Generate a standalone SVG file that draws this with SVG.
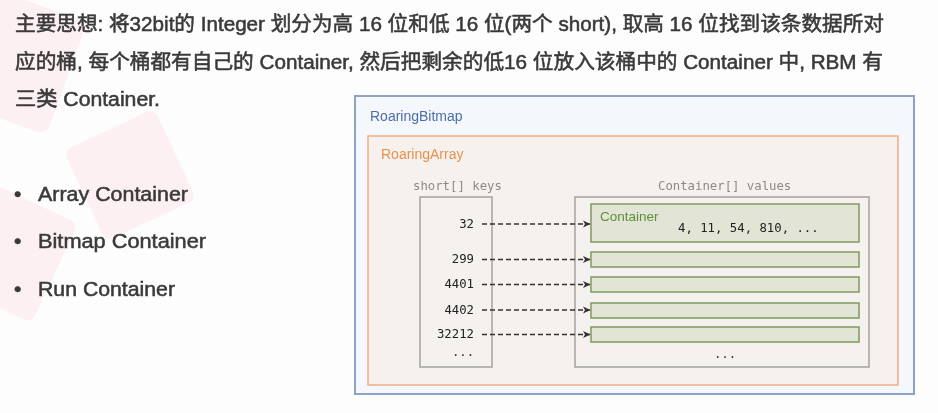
<svg xmlns="http://www.w3.org/2000/svg" width="938" height="413" viewBox="0 0 938 413">
  <defs>
    <marker id="arrow" viewBox="0 0 8 8" refX="7" refY="4" markerWidth="8" markerHeight="8" markerUnits="userSpaceOnUse" orient="auto">
      <path d="M0,0.5 L7.5,4 L0,7.5 L2,4 Z" fill="#333"/>
    </marker>
    <style>
      .intro { font-family: "Liberation Sans", "Noto Sans CJK SC", sans-serif; font-size: 20px; font-weight: normal; fill: #3a3a3a; stroke: #3a3a3a; stroke-width: 0.55px; }
      .bullet { font-family: "Liberation Sans", "Noto Sans CJK SC", sans-serif; font-size: 21px; font-weight: normal; fill: #3a3a3a; stroke: #3a3a3a; stroke-width: 0.55px; }
      .title { font-family: "Liberation Sans", "Noto Sans", sans-serif; font-size: 14px; }
      .mono { font-family: "DejaVu Sans Mono", "Liberation Mono", monospace; font-size: 12.3px; }
      .caption { fill: #8a8a8a; }
      .key { fill: #222; text-anchor: end; }
      .slot { fill: #e2e5d6; stroke: #80995f; stroke-width: 1.5; }
      .list { fill: #f5f1ef; stroke: #a2a2a2; stroke-width: 1.5; }
      .link { stroke: #333; stroke-width: 1.4; stroke-dasharray: 5 3; fill: none; marker-end: url(#arrow); }
    </style>
  </defs>

  <!-- page background with soft decorative tiles -->
  <rect width="938" height="413" fill="#fefdfd"/>
  <g fill="#fbe6eb" opacity="0.55">
    <rect x="-40" y="0" width="110" height="120" rx="10" transform="rotate(20 15 60)"/>
    <rect x="80" y="125" width="100" height="100" rx="8" transform="rotate(-25 130 175)"/>
    <rect x="-50" y="195" width="110" height="110" rx="8" transform="rotate(25 5 250)"/>
  </g>

  <!-- introduction text -->
  <g id="intro">
    <text class="intro" x="15" y="31" textLength="869" lengthAdjust="spacingAndGlyphs">主要思想: 将32bit的 Integer 划分为高 16 位和低 16 位(两个 short), 取高 16 位找到该条数据所对</text>
    <text class="intro" x="15" y="69" textLength="868" lengthAdjust="spacingAndGlyphs">应的桶, 每个桶都有自己的 Container, 然后把剩余的低16 位放入该桶中的 Container 中, RBM 有</text>
    <text class="intro" x="15" y="106" textLength="145" lengthAdjust="spacingAndGlyphs">三类 Container.</text>
  </g>

  <!-- container kinds -->
  <g id="kinds">
    <text class="bullet" x="14" y="201">•</text>
    <text class="bullet" x="38" y="201" textLength="150" lengthAdjust="spacingAndGlyphs">Array Container</text>
    <text class="bullet" x="14" y="248">•</text>
    <text class="bullet" x="38" y="248" textLength="168" lengthAdjust="spacingAndGlyphs">Bitmap Container</text>
    <text class="bullet" x="14" y="296">•</text>
    <text class="bullet" x="38" y="296" textLength="137" lengthAdjust="spacingAndGlyphs">Run Container</text>
  </g>

  <!-- RoaringBitmap wrapper -->
  <g id="roaring-bitmap">
    <rect x="355" y="96" width="559" height="298" fill="#f4f7fb" stroke="#8ea2c8" stroke-width="2"/>
    <text class="title" x="370" y="121" fill="#4f6ea8">RoaringBitmap</text>
  </g>

  <!-- RoaringArray -->
  <g id="roaring-array">
    <rect x="368" y="136" width="530" height="249" fill="#f7f1ee" stroke="#f0ad86" stroke-width="1.5"/>
    <text class="title" x="381" y="159" fill="#e8914e">RoaringArray</text>
  </g>

  <!-- keys array -->
  <g id="keys">
    <text class="mono caption" x="413" y="190">short[] keys</text>
    <rect class="list" x="420" y="197" width="72" height="170"/>
    <text class="mono key" x="474" y="228">32</text>
    <text class="mono key" x="474" y="263">299</text>
    <text class="mono key" x="474" y="288">4401</text>
    <text class="mono key" x="474" y="314">4402</text>
    <text class="mono key" x="474" y="338">32212</text>
    <text class="mono" x="463" y="356" fill="#333" text-anchor="middle">...</text>
  </g>

  <!-- values array -->
  <g id="values">
    <text class="mono caption" x="658" y="190">Container[] values</text>
    <rect class="list" x="575" y="197" width="294" height="170"/>
    <text class="mono" x="725" y="358" fill="#333" text-anchor="middle">...</text>
  </g>

  <g id="container-32">
    <rect class="slot" x="591" y="204" width="268" height="38"/>
    <text x="600" y="221" font-family="Liberation Sans, sans-serif" font-size="13.5" fill="#5f8d3a">Container</text>
    <text class="mono" x="678" y="232" fill="#222">4, 11, 54, 810, ...</text>
  </g>
  <g id="container-299"><rect class="slot" x="591" y="252" width="268" height="15"/></g>
  <g id="container-4401"><rect class="slot" x="591" y="277" width="268" height="15"/></g>
  <g id="container-4402"><rect class="slot" x="591" y="303" width="268" height="15"/></g>
  <g id="container-32212"><rect class="slot" x="591" y="327" width="268" height="15"/></g>

  <!-- key to container links -->
  <g id="connectors">
    <line class="link" x1="482" y1="224" x2="590" y2="224"/>
    <line class="link" x1="482" y1="259.5" x2="590" y2="259.5"/>
    <line class="link" x1="482" y1="284.5" x2="590" y2="284.5"/>
    <line class="link" x1="482" y1="310" x2="590" y2="310"/>
    <line class="link" x1="482" y1="334.5" x2="590" y2="334.5"/>
  </g>
</svg>
